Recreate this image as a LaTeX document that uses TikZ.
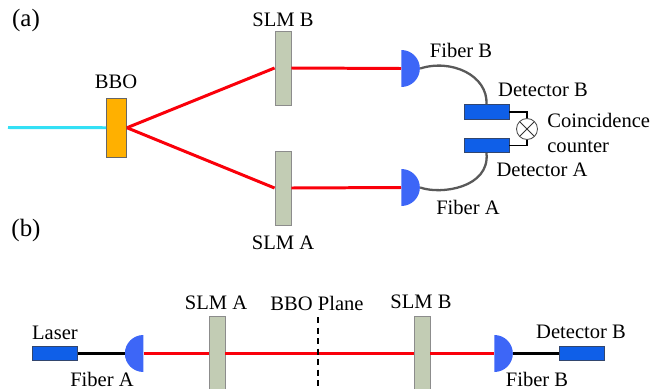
\documentclass[tikz,border=0pt]{standalone}
\usepackage{fontspec}
\setmainfont{Liberation Serif}
\usetikzlibrary{calc,shapes.geometric}
\definecolor{pumpcyan}{RGB}{51,224,245}
\definecolor{bboorange}{RGB}{255,176,0}
\definecolor{slmgreen}{RGB}{194,204,180}
\definecolor{slmedge}{RGB}{140,140,140}
\definecolor{detblue}{RGB}{15,95,232}
\definecolor{detedge}{RGB}{50,70,110}
\definecolor{fiberblue}{RGB}{61,102,247}
\definecolor{beamred}{RGB}{250,0,10}
\tikzset{
  lbl/.style={font=\fontsize{11.7}{13}\selectfont, inner sep=0pt},
  panel/.style={font=\fontsize{14.2}{16}\selectfont, inner sep=0pt},
  slm/.style={rectangle, draw=slmedge, fill=slmgreen, line width=0.5pt, minimum width=0.32cm, minimum height=1.48cm, inner sep=0pt},
  detector/.style={rectangle, draw=detedge, fill=detblue, line width=0.5pt, minimum width=0.9cm, minimum height=0.29cm, inner sep=0pt},
  fiberhead/.style={semicircle, fill=fiberblue, inner sep=0pt, minimum width=0.74cm, minimum height=0.37cm, anchor=chord center},
  beam/.style={beamred, line width=1.7pt},
  thinbeam/.style={beamred, line width=1.2pt},
  fibercable/.style={black!65, line width=1.3pt},
  wire/.style={black, line width=0.9pt},
  patchcord/.style={black, line width=1.5pt}
}

\begin{document}
\begin{tikzpicture}[x=0.02cm,y=-0.02cm]
\useasboundingbox (0,0) rectangle (663,389);

% Panel labels
\node[panel] (panelA) at (26,20) {(a)};
\node[panel] (panelB) at (26,230) {(b)};

% Panel (a) elements
\coordinate (pump) at (8,127.5);
\node[rectangle, draw=black!60, fill=bboorange, line width=0.5pt, minimum width=0.4cm, minimum height=1.19cm, inner sep=0pt] (bbo) at (116.5,127.75) {};
\node[slm] (slmB) at (283,68) {};
\node[slm] (slmA) at (283,188) {};
\node[fiberhead, shape border rotate=270] (fiberB) at (401,68.5) {};
\node[fiberhead, shape border rotate=270] (fiberA) at (401,187.5) {};
\node[detector] (detB) at (486.5,112) {};
\node[detector] (detA) at (486.5,145.5) {};
\node[circle, draw=black!70, fill=white, line width=0.5pt, minimum size=0.42cm, inner sep=0pt,
  path picture={\draw[black!80, line width=0.5pt]
    (path picture bounding box.north west) -- (path picture bounding box.south east)
    (path picture bounding box.north east) -- (path picture bounding box.south west);}] (ctr) at (527,129) {};

% Panel (a) beams
\draw[pumpcyan, line width=1.7pt] (pump) -- (bbo.west);
\draw[beam] (bbo.east) -- (slmB.west);
\draw[beam] (bbo.east) -- (slmA.west);
\draw[beam] (slmB.east) -- (fiberB.chord center);
\draw[beam] (slmA.east) -- (fiberA.chord center);

% Panel (a) cables
\draw[fibercable] (fiberB.apex) .. controls +(31,-10) and +(1.5,-29) .. (detB.north);
\draw[fibercable] (fiberA.apex) .. controls +(21,7.5) and +(3.5,34.5) .. (detA.south);
\draw[wire] (detB.east) -| (ctr.north);
\draw[wire] (detA.east) -| (ctr.south);

% Panel (a) labels
\node[lbl] (bboText) at (116,82) {BBO};
\node[lbl] (slmBText) at (283,20) {SLM B};
\node[lbl] (slmAText) at (283,243) {SLM A};
\node[lbl] (fiberBText) at (461,50) {Fiber B};
\node[lbl] (fiberAText) at (468,207) {Fiber A};
\node[lbl] (detBText) at (543,90) {Detector B};
\node[lbl] (detAText) at (542,170) {Detector A};
\node[lbl, anchor=west] (ctrText) at (547,120) {Coincidence};
\node[lbl, anchor=west] (ctrTextB) at (547,147) {counter};

% Panel (b) elements
\node[detector] (laser) at (55,353.5) {};
\node[fiberhead, shape border rotate=90] (fiberLeft) at (143.7,353.5) {};
\node[slm] (slmLeft) at (217,353.5) {};
\node[slm] (slmRight) at (422,353.5) {};
\node[fiberhead, shape border rotate=270] (fiberRight) at (494,353.5) {};
\node[detector] (detRight) at (581.5,353.5) {};
\coordinate (planeTop) at (318,317);
\coordinate (planeBot) at (318,389);

% Panel (b) beams
\draw[patchcord] (laser.east) -- (fiberLeft.apex);
\draw[thinbeam] (fiberLeft.chord center) -- (slmLeft.west);
\draw[thinbeam] (slmLeft.east) -- (slmRight.west);
\draw[thinbeam] (slmRight.east) -- (fiberRight.chord center);
\draw[patchcord] (fiberRight.apex) -- (detRight.west);
\draw[black, line width=1.1pt, dash pattern=on 3.5pt off 2.5pt] (planeTop) -- (planeBot);

% Panel (b) labels
\node[lbl] (laserText) at (55,333) {Laser};
\node[lbl] (fiberLeftText) at (102,379) {Fiber A};
\node[lbl] (slmLeftText) at (216,303) {SLM A};
\node[lbl] (planeText) at (317,303) {BBO Plane};
\node[lbl] (slmRightText) at (421,302) {SLM B};
\node[lbl] (detRightText) at (581,332) {Detector B};
\node[lbl] (fiberRightText) at (537,379) {Fiber B};

\end{tikzpicture}
\end{document}
